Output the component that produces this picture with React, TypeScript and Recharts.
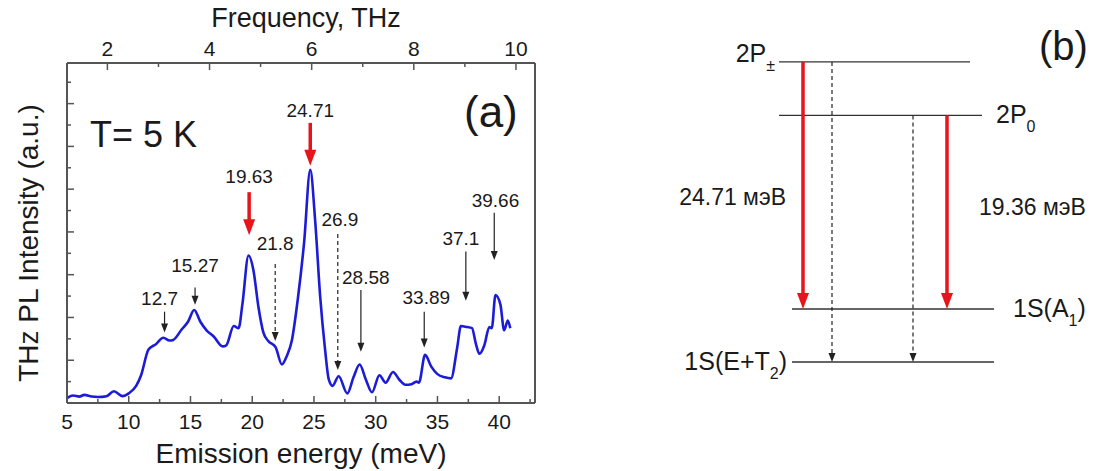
import React from 'react';
import { LineChart, Line, XAxis, YAxis, ReferenceLine, ReferenceDot } from 'recharts';

// PL spectrum, emission energy (meV) vs intensity (a.u., tick units)
const energy = [
  5.0, 5.5, 6.0, 6.4, 7.0, 7.5, 8.2, 8.8, 9.5, 10.0, 10.6, 11.0, 11.6, 12.2, 12.8, 13.3, 13.6, 14.3,
  14.8, 15.3, 15.8, 16.3, 16.9, 17.6, 17.9, 18.5, 18.9, 19.2, 19.7, 20.1, 20.5, 20.9, 21.3, 21.9,
  22.4, 22.8, 23.2, 23.7, 24.2, 24.7, 25.1, 25.5, 25.9, 26.2, 26.5, 27.0, 27.7, 28.2, 28.7, 29.2,
  29.7, 30.3, 30.8, 31.4, 31.9, 32.4, 32.9, 33.3, 33.5, 34.0, 34.5, 35.0, 35.6, 36.1, 36.6, 36.9,
  37.4, 37.8, 38.1, 38.4, 38.8, 39.2, 39.4, 39.7, 40.1, 40.4, 40.7, 40.9,
];
const intensity = [
  0.23, 0.35, 0.3, 0.38, 0.3, 0.28, 0.32, 0.55, 0.32, 0.45, 0.8, 1.3, 2.5, 2.75, 3.05, 2.92, 2.95, 3.45,
  3.8, 4.35, 3.8, 3.4, 3.1, 2.65, 2.7, 3.6, 3.5, 4.6, 6.9, 6.2, 4.5, 3.3, 2.9, 2.6,
  1.8, 2.2, 2.9, 4.9, 7.5, 10.9, 8.5, 5.0, 2.5, 1.1, 0.8, 1.25, 0.45, 1.2, 1.8, 1.1,
  0.5, 1.3, 0.95, 1.45, 1.1, 0.85, 0.88, 1.0, 0.95, 2.25, 1.7, 1.35, 1.2, 1.15, 2.6, 3.6,
  3.55, 3.5, 2.8, 2.3, 2.7, 3.55, 3.5, 5.05, 4.6, 3.4, 3.85, 3.5,
];

const energyTicks = [5, 7.5, 10, 12.5, 15, 17.5, 20, 22.5, 25, 27.5, 30, 32.5, 35, 37.5, 40, 42.5];
const thzTicks = [2, 3, 4, 5, 6, 7, 8, 9, 10];
const intensityTicks = [0, 1, 2, 3, 4, 5, 6, 7, 8, 9, 10, 11, 12, 13, 14, 15];
const MEV_PER_THZ = 4.1357;
const E_MIN = 5;
const E_MAX = 42.9;
const I_MAX = 15.9;

// peak annotations
const peakLabel = ['12.7', '15.27', '19.63', '21.8', '24.71', '26.9', '28.58', '33.89', '37.1', '39.66'];
const peakArrowE = [12.9, 15.37, 19.75, 21.86, 24.7, 26.93, 28.8, 33.93, 37.3, 39.6];
const peakArrowTop = [4.27, 5.4, 9.86, 6.5, 13.1, 7.9, 5.28, 4.27, 7.08, 8.9];
const peakArrowTip = [3.3, 4.6, 7.85, 2.9, 11.1, 1.54, 2.4, 2.6, 4.78, 6.69];
const peakLabelE = [12.5, 15.37, 19.75, 21.86, 24.7, 27.1, 29.2, 34.1, 36.9, 39.7];
const peakLabelI = [4.9, 6.45, 10.6, 7.5, 13.7, 8.6, 5.9, 4.97, 7.7, 9.5];
const peakKind = ['solid', 'solid', 'red', 'dashed', 'red', 'dashed', 'solid', 'solid', 'solid', 'solid'];

// level diagram (meV, relative to 1S(A1))
const levelMain = ['2P', '2P', '1S(A', '1S(E+T'];
const levelSub = ['\u00b1', '0', '1', '2'];
const levelTail = ['', '', ')', ')'];
const levelEnergy = [24.71, 19.36, 0, -5.3];
const transFrom = [0, 0, 1, 1];
const transTo = [2, 3, 3, 2];
const transKind = ['red', 'dashed', 'dashed', 'red'];
const transLabel = ['24.71 \u043c\u044d\u0412', '', '', '19.36 \u043c\u044d\u0412'];
const transLabelE = [10.4, 0, 0, 9.4];

// diagram layout (x in 0..100 units)
const levelSpan = [[29.75, 77.5], [29.75, 80.5], [33, 83.5], [33, 83.5]];
const transX = [35.75, 43, 63.25, 71.75];

const spectrum = energy.map((e, k) => ({ e, i: intensity[k] }));
// frequency ticks placed on the energy scale
const thzTicksMeV = thzTicks.map((f) => f * MEV_PER_THZ);

const AXIS = '#555';
const TXT = '#1a1a1a';
const RED = '#e8141c';
const BLUE = '#1c1cd6';

function BottomTick(p: any) {
  const v = p.payload.value;
  const major = v % 5 === 0;
  return (
    <g>
      <line x1={p.x} x2={p.x} y1={p.y} y2={p.y - (major ? 7 : 4)} stroke={AXIS} strokeWidth={1.5} />
      {major && (
        <text x={p.x} y={p.y + 26} textAnchor="middle" fontSize={21} fill={TXT}>{v}</text>
      )}
    </g>
  );
}

function TopTick(p: any) {
  const f = Math.round(p.payload.value / MEV_PER_THZ);
  const major = f % 2 === 0;
  return (
    <g>
      <line x1={p.x} x2={p.x} y1={p.y} y2={p.y + (major ? 7 : 4)} stroke={AXIS} strokeWidth={1.5} />
      {major && (
        <text x={p.x} y={p.y - 7} textAnchor="middle" fontSize={21} fill={TXT}>{f}</text>
      )}
    </g>
  );
}

function LeftTick(p: any) {
  const v = p.payload.value;
  if (v === 0) return <g />;
  const major = v % 2 === 0;
  return <line x1={p.x} x2={p.x + (major ? 7 : 4)} y1={p.y} y2={p.y} stroke={AXIS} strokeWidth={1.5} />;
}

function arrow(kind: string) {
  return (p: any) => {
    const { x1, y1, y2 } = p;
    if (kind === 'red') {
      const hw = 6, hh = 16;
      return (
        <g>
          <line x1={x1} x2={x1} y1={y1} y2={y2 - hh + 2} stroke={RED} strokeWidth={3.5} />
          <polygon points={`${x1 - hw},${y2 - hh} ${x1 + hw},${y2 - hh} ${x1},${y2}`} fill={RED} />
        </g>
      );
    }
    const hw = 3.5, hh = 9;
    return (
      <g>
        <line x1={x1} x2={x1} y1={y1} y2={y2 - hh + 1} stroke="#222" strokeWidth={1.2}
          strokeDasharray={kind === 'dashed' ? '4 3' : undefined} />
        <polygon points={`${x1 - hw},${y2 - hh} ${x1 + hw},${y2 - hh} ${x1},${y2}`} fill="#222" />
      </g>
    );
  };
}

function SpectrumPanel() {
  return (
    <LineChart width={560} height={471} data={spectrum}
      margin={{ top: 62, right: 25, bottom: 67, left: 66 }}>
      <XAxis dataKey="e" type="number" domain={[E_MIN, E_MAX]} allowDataOverflow ticks={energyTicks}
        interval={0} height={1} tickSize={0} tickMargin={0} tickLine={false}
        axisLine={{ stroke: AXIS, strokeWidth: 2 }} tick={<BottomTick />} />
      <XAxis xAxisId="thz" dataKey="e" orientation="top" type="number"
        domain={[E_MIN, E_MAX]} allowDataOverflow ticks={thzTicksMeV}
        interval={0} height={1} tickSize={0} tickMargin={0} tickLine={false}
        axisLine={{ stroke: AXIS, strokeWidth: 2 }} tick={<TopTick />} />
      <YAxis type="number" domain={[0, I_MAX]} allowDataOverflow ticks={intensityTicks} interval={0}
        width={1} tickSize={0} tickMargin={0} tickLine={false}
        axisLine={{ stroke: AXIS, strokeWidth: 2 }} tick={<LeftTick />} />
      <ReferenceLine x={E_MAX} stroke={AXIS} strokeWidth={2} ifOverflow="visible" />
      <Line dataKey="i" type="monotone" stroke={BLUE} strokeWidth={2.6} dot={false}
        isAnimationActive={false} />
      {peakLabel.map((lab, k) => (
        <ReferenceLine key={'a' + k} ifOverflow="visible"
          segment={[{ x: peakArrowE[k], y: peakArrowTop[k] }, { x: peakArrowE[k], y: peakArrowTip[k] }]}
          shape={arrow(peakKind[k])} />
      ))}
      {peakLabel.map((lab, k) => (
        <ReferenceDot key={'l' + k} x={peakLabelE[k]} y={peakLabelI[k]} r={0} ifOverflow="visible"
          shape={(p: any) => (
            <text x={p.cx} y={p.cy + 7} textAnchor="middle" fontSize={19} fill={TXT}>{lab}</text>
          )} />
      ))}
    </LineChart>
  );
}

function levelShape(k: number) {
  return (p: any) => {
    const { x1, x2, y1 } = p;
    const rightSide = k === 1 || k === 2;
    const dy = k === 0 ? 0 : 8;
    const tx = rightSide ? x2 + (k === 1 ? 14 : 19) : x1 - (k === 0 ? 4 : 5);
    return (
      <g>
        <line x1={x1} x2={x2} y1={y1} y2={y1} stroke="#333" strokeWidth={1.4} />
        <text x={tx} y={y1 + dy} textAnchor={rightSide ? 'start' : 'end'} fontSize={25} fill={TXT}>
          {levelMain[k]}
          <tspan dy={9} fontSize={16}>{levelSub[k]}</tspan>
          {levelTail[k] && <tspan dy={-9} fontSize={25}>{levelTail[k]}</tspan>}
        </text>
      </g>
    );
  };
}

function DiagramPanel() {
  return (
    <LineChart width={436} height={471} data={levelEnergy.map((v) => ({ v }))}
      margin={{ top: 29, right: 36, bottom: 42, left: 0 }}>
      <XAxis type="number" dataKey="v" domain={[0, 100]} hide allowDataOverflow />
      <YAxis type="number" domain={[-12, 28]} hide allowDataOverflow />
      {levelEnergy.map((v, k) => (
        <ReferenceLine key={'lv' + k} ifOverflow="visible"
          segment={[{ x: levelSpan[k][0], y: v }, { x: levelSpan[k][1], y: v }]}
          shape={levelShape(k)} />
      ))}
      {transFrom.map((f, k) => (
        <ReferenceLine key={'tr' + k} ifOverflow="visible"
          segment={[{ x: transX[k], y: levelEnergy[f] }, { x: transX[k], y: levelEnergy[transTo[k]] }]}
          shape={arrow(transKind[k])} />
      ))}
      {transLabel.map((lab, k) => lab ? (
        <ReferenceDot key={'tl' + k} x={transX[k]} y={transLabelE[k]} r={0} ifOverflow="visible"
          shape={(p: any) => (
            <text x={k === 0 ? p.cx - 17 : p.cx + 32} y={p.cy} textAnchor={k === 0 ? 'end' : 'start'}
              fontSize={23} fill={TXT}>{lab}</text>
          )} />
      ) : null)}
    </LineChart>
  );
}

export default function App() {
  return (
    <div style={{ position: 'absolute', left: 0, top: 0, width: 1096, height: 471, background: '#fff',
      fontFamily: '"Liberation Sans", Arial, sans-serif', overflow: 'hidden' }}>
      <div style={{ position: 'absolute', left: 0, top: 0 }}>
        <SpectrumPanel />
      </div>
      <div style={{ position: 'absolute', left: 660, top: 0 }}>
        <DiagramPanel />
      </div>
      <svg width={1096} height={471} style={{ position: 'absolute', left: 0, top: 0, pointerEvents: 'none' }}>
        <text x={306} y={27} textAnchor="middle" fontSize={27} fill={TXT}>Frequency, THz</text>
        <text x={301} y={463} textAnchor="middle" fontSize={28} fill={TXT}>Emission energy (meV)</text>
        <text transform="rotate(-90)" x={-243} y={38} textAnchor="middle" fontSize={28} fill={TXT}>
          THz PL Intensity (a.u.)
        </text>
        <text x={90} y={147} fontSize={36} fill={TXT}>T= 5 K</text>
        <text x={464} y={127} fontSize={44} fill={TXT}>(a)</text>
        <text x={1039} y={60} fontSize={40} fill={TXT}>(b)</text>
      </svg>
    </div>
  );
}
